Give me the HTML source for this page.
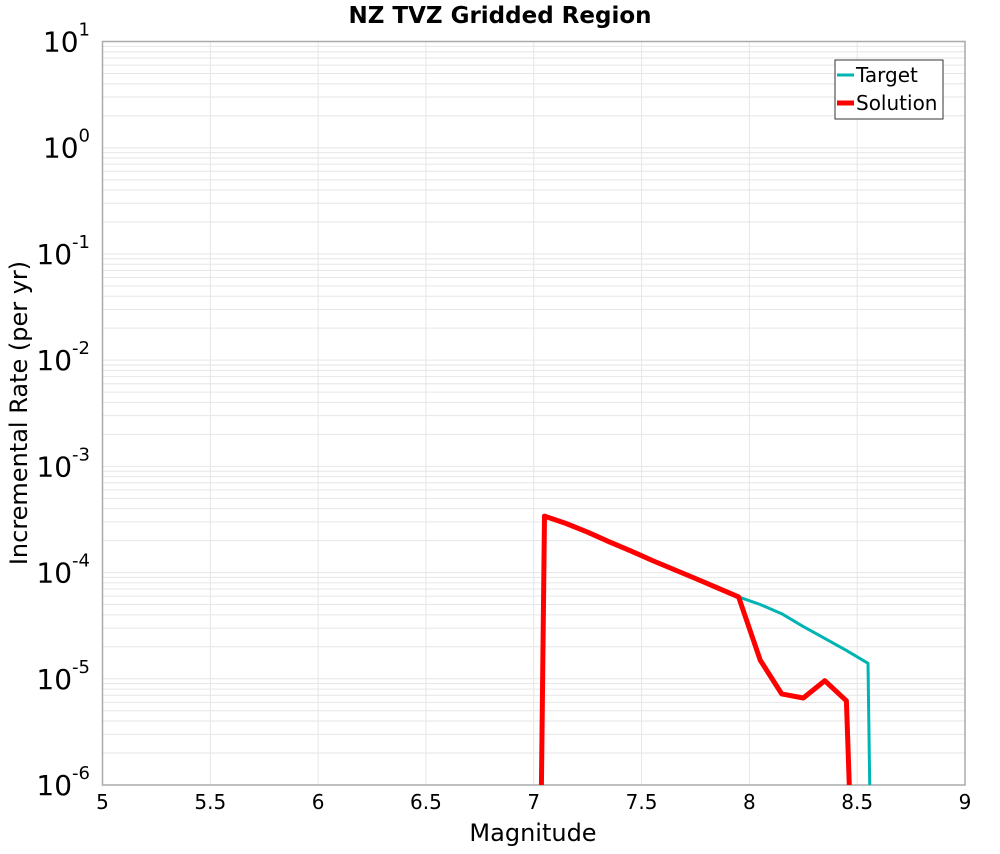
<!DOCTYPE html>
<html><head><meta charset="utf-8"><style>
body{margin:0;background:#fff;font-family:"DejaVu Sans","Liberation Sans",sans-serif}
</style></head><body>
<svg width="1000" height="850" xmlns="http://www.w3.org/2000/svg" font-family="DejaVu Sans, Liberation Sans, sans-serif">
<text x="500" y="23" text-anchor="middle" font-size="23" font-weight="bold">NZ TVZ Gridded Region</text>
<g id="grid"></g>
<g id="axes"></g>
<g id="series"></g>
<text x="533" y="841" text-anchor="middle" font-size="24">Magnitude</text>
<text transform="translate(27,413) rotate(-90)" text-anchor="middle" font-size="24">Incremental Rate (per yr)</text>
<g>
<rect x="835" y="60" width="108" height="59" fill="#fff" stroke="#333" stroke-width="1"/>
<line x1="837" y1="75" x2="854" y2="75" stroke="#00b4b4" stroke-width="3"/>
<text x="856" y="82" font-size="20">Target</text>
<line x1="837" y1="103" x2="854" y2="103" stroke="#ff0000" stroke-width="5"/>
<text x="856" y="110" font-size="20">Solution</text>
</g>
</svg>
<script>
const xTicks=[5,5.5,6,6.5,7,7.5,8,8.5,9];
const yExps=[1,0,-1,-2,-3,-4,-5,-6];
const targetMags=[7.03,7.05,7.15,7.25,7.35,7.45,7.55,7.65,7.75,7.85,7.95,8.05,8.15,8.25,8.35,8.45,8.55,8.565];
const targetRates=[1e-7,3.4e-4,2.9e-4,2.4e-4,1.95e-4,1.6e-4,1.3e-4,1.07e-4,8.8e-5,7.2e-5,5.9e-5,5.0e-5,4.1e-5,3.1e-5,2.4e-5,1.85e-5,1.4e-5,1e-7];
const solMags=[7.03,7.05,7.15,7.25,7.35,7.45,7.55,7.65,7.75,7.85,7.95,8.05,8.15,8.25,8.35,8.45,8.48];
const solRates=[1e-7,3.4e-4,2.9e-4,2.4e-4,1.95e-4,1.6e-4,1.3e-4,1.07e-4,8.8e-5,7.2e-5,5.9e-5,1.5e-5,7.2e-6,6.6e-6,9.6e-6,6.2e-6,1e-7];
const L=102.5,R=965,T=41.5,B=785;
const xs=m=>L+(m-5)/4*(R-L);
const ys=v=>T+(1-Math.log10(v))/7*(B-T);
const NS="http://www.w3.org/2000/svg";
function mk(t,a,p){const e=document.createElementNS(NS,t);for(const k in a)e.setAttribute(k,a[k]);p.appendChild(e);return e;}
const grid=document.getElementById('grid'),axes=document.getElementById('axes'),ser=document.getElementById('series');
for(let e=-6;e<1;e++)for(let k=1;k<10;k++){const y=ys(k*Math.pow(10,e));const l=mk('line',{x1:L,x2:R,y1:y,y2:y,stroke:'#e6e6e6','stroke-width':1},grid);

}
xTicks.forEach(t=>{const x=xs(t);const l=mk('line',{x1:x,x2:x,y1:T,y2:B,stroke:'#e6e6e6','stroke-width':1},grid);


const tx=mk('text',{x:x,y:809,'text-anchor':'middle','font-size':20},axes);tx.textContent=String(t);

});
yExps.forEach(e=>{const y=ys(Math.pow(10,e));const tx=mk('text',{x:90,y:y+10,'text-anchor':'end','font-size':28},axes);
tx.innerHTML='10<tspan dy="-16" font-size="18">'+e+'</tspan>';

});
const fr=mk('rect',{x:L,y:T,width:R-L,height:B-T,fill:'none',stroke:'#aaa','stroke-width':1.5},axes);


const cp=mk('clipPath',{id:'cp'},ser);
mk('rect',{x:L,y:T,width:R-L,height:B-T},cp);
function line(ms,vs,c,w,name){const d=ms.map((m,i)=>(i?'L':'M')+xs(m).toFixed(1)+','+ys(vs[i]).toFixed(1)).join(' ');
const p=mk('path',{d:d,fill:'none',stroke:c,'stroke-width':w,'stroke-linejoin':'round','clip-path':'url(#cp)'},ser);

}
line(targetMags,targetRates,'#00b4b4',3,'target-line');
line(solMags,solRates,'#ff0000',5,'solution-line');
</script>
</body></html>
